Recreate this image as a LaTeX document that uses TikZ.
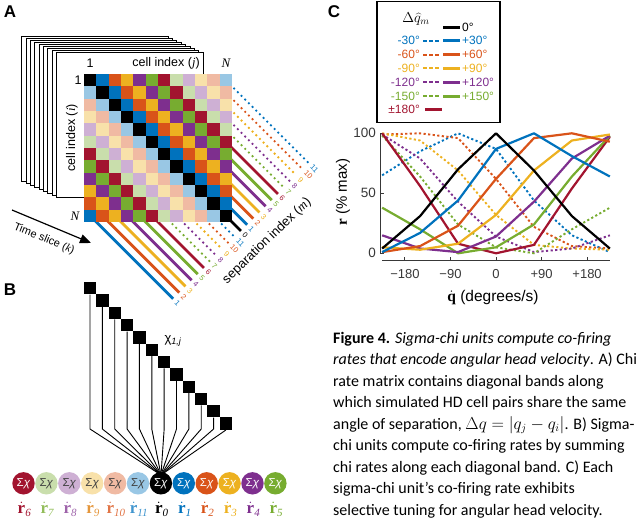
\documentclass[tikz,border=0pt]{standalone}
\usepackage{fontspec}
\setmainfont{Liberation Sans}
\newfontfamily\capfont{Carlito}
\newfontfamily\serf{Liberation Serif}
\usetikzlibrary{arrows.meta,calc}
\newcommand\myfs[1]{\fontsize{#1}{#1}\selectfont}
\newcommand\rdot[1]{$\dot{\hbox{\serf\bfseries r}}_{\hbox{\serf\itshape\myfs{11}#1}}$}
\definecolor{cK}{RGB}{0,0,0}
\definecolor{cB}{RGB}{0,114,189}
\definecolor{cO}{RGB}{217,83,25}
\definecolor{cY}{RGB}{237,177,32}
\definecolor{cP}{RGB}{126,47,142}
\definecolor{cG}{RGB}{119,172,48}
\definecolor{cR}{RGB}{162,20,47}
\colorlet{m0}{cK}
\colorlet{m1}{cB}
\colorlet{m2}{cO}
\colorlet{m3}{cY}
\colorlet{m4}{cP}
\colorlet{m5}{cG}
\colorlet{m6}{cR}
\colorlet{m7}{cG!40!white}
\colorlet{m8}{cP!38!white}
\colorlet{m9}{cY!38!white}
\colorlet{m10}{cO!40!white}
\colorlet{m11}{cB!40!white}
\colorlet{s0}{cK}
\colorlet{s1}{cB}
\colorlet{s2}{cO}
\colorlet{s3}{cY}
\colorlet{s4}{cP}
\colorlet{s5}{cG}
\colorlet{s6}{cR}
\colorlet{s7}{cG}
\colorlet{s8}{cP}
\colorlet{s9}{cY}
\colorlet{s10}{cO}
\colorlet{s11}{cB}
\colorlet{t7}{cG!80!white}
\colorlet{t8}{cP!75!white}
\definecolor{t9}{RGB}{228,150,60}
\colorlet{t10}{cO!80!white}
\colorlet{t11}{cB!75!white}
\colorlet{txg}{black!75}
\colorlet{axg}{black!78}
\tikzset{
  solidln/.style={line width=2.8pt},
  dotln/.style={line width=2.6pt, line cap=round, dash pattern=on 0pt off 5.2pt},
  L0/.style={solidln,draw=cK}, L1/.style={solidln,draw=cB}, L2/.style={solidln,draw=cO},
  L3/.style={solidln,draw=cY}, L4/.style={solidln,draw=cP}, L5/.style={solidln,draw=cG},
  L6/.style={solidln,draw=cR}, L7/.style={dotln,draw=cG}, L8/.style={dotln,draw=cP},
  L9/.style={dotln,draw=cY}, L10/.style={dotln,draw=cO}, L11/.style={dotln,draw=cB},
  plab/.style={font=\myfs{17}\bfseries, inner sep=0pt},
  alab/.style={font=\myfs{12.5}, inner sep=0pt},
  nlab/.style={font=\myfs{13}\serf\itshape, inner sep=0pt},
  numlab/.style={font=\myfs{7.5}, inner sep=0pt},
  sheet/.style={fill=white, draw=black, line width=1pt},
  sq/.style={fill=black, minimum size=12.3pt, inner sep=0pt},
  wire/.style={draw=black, line width=0.9pt},
  circ/.style={circle, minimum size=22.4pt, inner sep=0pt, font=\myfs{11.5}},
  rlab/.style={font=\myfs{17}, inner sep=0pt},
  cs/.style={line width=2.2pt, line join=round},
  cd/.style={line width=1.9pt, dash pattern=on 2.2pt off 2.4pt},
  lgt/.style={font=\myfs{12}, inner sep=0pt},
  lgs/.style={line width=3pt},
  lgd/.style={line width=2pt, dash pattern=on 3.5pt off 2.6pt},
  axis/.style={draw=axg, line width=1pt},
  tickl/.style={font=\myfs{13}, text=axg, inner sep=0pt},
  capl/.style={font=\capfont\myfs{16}, anchor=base west, inner sep=0pt}
}
\begin{document}
\begin{tikzpicture}[x=1pt,y=-1pt]
\useasboundingbox (0,0) rectangle (640,522);
% ---------- panel labels
\node[plab] (labA) at (10,12) {A};
\node[plab] (labB) at (10,290) {B};
\node[plab] (labC) at (334,12) {C};
% ---------- panel A : stack of sheets
\foreach \k in {0,...,8} {
  \pgfmathsetmacro\sx{21.7+4.375*\k}
  \pgfmathsetmacro\sy{36+2.09*\k}
  \filldraw[sheet] (\sx,\sy) rectangle ++(146.5,145);
}
\node[alab] (oneT) at (90,63) {1};
\node[alab] (cellj) at (166,63) {cell index ({\serf\itshape j})};
\node[nlab] (NT) at (226,63) {N};
\node[alab] (oneL) at (78,80) {1};
\node[nlab] (NL) at (75,216) {N};
\node[alab, rotate=90] (celli) at (72,138) {cell index ({\serf\itshape i})};
\coordinate (tsA) at (12,210);
\coordinate (tsB) at (91,243);
\draw[line width=1.2pt, -{Triangle[length=11pt,width=9pt]}] (tsA) -- (tsB);
\node[alab, rotate=-22, font=\myfs{11}] (tslab) at (44,239) {Time slice ({\serf\itshape k})};
% matrix and diagonal bands
\begin{scope}[shift={(84,74)}, x=12.33pt, y=-12.33pt]
  \foreach \n in {1,...,12} {
    \pgfmathtruncatemacro\m{mod(\n,12)}
    \pgfmathsetmacro\t{(13.46-\n)/2}
    \pgfmathsetmacro\ex{\n+\t}
    \pgfmathsetmacro\ey{12+\t}
    \pgfmathsetmacro\lx{\n+\t+0.22}
    \pgfmathsetmacro\ly{12+\t+0.22}
    \draw[L\m] (\n-0.12,11.88) -- (\ex,\ey);
    \node[numlab, text=s\m, anchor=west, rotate=-45] (bl\n) at (\lx,\ly) {\m};
  }
  \foreach \n in {1,...,11} {
    \pgfmathtruncatemacro\m{12-\n}
    \pgfmathsetmacro\t{(13.46-\n)/2}
    \pgfmathsetmacro\ex{12+\t}
    \pgfmathsetmacro\ey{\n+\t}
    \pgfmathsetmacro\lx{12+\t+0.22}
    \pgfmathsetmacro\ly{\n+\t+0.22}
    \draw[L\m] (11.88,\n-0.12) -- (\ex,\ey);
    \node[numlab, text=s\m, anchor=west, rotate=-45] (rl\n) at (\lx,\ly) {\m};
  }
  \foreach \i in {1,...,12} {
    \foreach \j in {1,...,12} {
      \pgfmathtruncatemacro\m{mod(\j-\i+12,12)}
      \fill[m\m] (\j-1,\i-1) rectangle (\j,\i);
    }
  }
\end{scope}
\node[alab, rotate=44, font=\myfs{13}] (sepl) at (267,241) {separation index ({\serf\itshape m})};
% ---------- panel B
\foreach \k in {1,...,12} {
  \pgfmathsetmacro\qx{90+12.36*(\k-1)}
  \pgfmathsetmacro\qy{288.3+12.3*(\k-1)}
  \node[sq] (sq\k) at (\qx,\qy) {};
}
\coordinate (bend) at (0,429);
\coordinate (conv) at (161,475);
\foreach \k in {1,...,11} {
  \draw[wire] (sq\k.south) -- (sq\k.south |- bend) -- (conv);
}
\draw[wire] (sq12.south) -- (conv);
\node[inner sep=0pt, font=\myfs{13}] (chi) at (173,341) {χ\textsubscript{\itshape 1,j}};
\foreach \k/\fc/\tc/\num/\lc in {0/cR/white/6/cR, 1/m7/txg/7/t7, 2/m8/txg/8/t8, 3/m9/txg/9/t9, 4/m10/txg/10/t10, 5/m11/txg/11/t11, 6/cK/white/0/black, 7/cB/white/1/cB, 8/cO/white/2/cO, 9/cY/white/3/cY, 10/cP/white/4/cP, 11/cG/white/5/cG} {
  \node[circ, fill=\fc, text=\tc] (c\k) at ({23.5+22.9*\k},483.3) {Σ\textit{χ}};
  \node[rlab, text=\lc] (r\k) at ({24.5+22.9*\k},509) {\rdot{\num}};
}
% ---------- panel C legend
\draw[draw=black, line width=1.1pt] (377,1.2) rectangle (500,122.5);
\node[inner sep=0pt, font=\myfs{14}] (lgh) at (416,19) {$\Delta\widehat{q}_m$};
\draw[lgs, draw=black] (443,27) -- (460,27);
\node[lgt, anchor=west] (lg0) at (462,27) {0°};
\foreach \k/\col/\a in {1/cB/30, 2/cO/60, 3/cY/90, 4/cP/120, 5/cG/150} {
  \pgfmathsetmacro\ry{27+13.8*\k}
  \node[lgt, text=\col, anchor=east] (lgl\k) at (420,\ry) {-\a°};
  \draw[lgd, draw=\col] (423,\ry) -- (441,\ry);
  \draw[lgs, draw=\col] (443,\ry) -- (460,\ry);
  \node[lgt, text=\col, anchor=west] (lgr\k) at (462,\ry) {+\a°};
}
\node[lgt, text=cR, anchor=east] (lg6) at (420,109.8) {±180°};
\draw[lgs, draw=cR] (425,109.8) -- (442,109.8);
% ---------- panel C plot
\draw[axis] (380,133.3) -- (380,253.3);
\draw[axis] (382,260) -- (610,260);
\foreach \v/\s in {-180/−180, -90/−90, 0/0, 90/+90, 180/+180} {
  \pgfmathsetmacro\tx{496+0.506*\v}
  \draw[axis] (\tx,260) -- (\tx,256.5);
  \node[tickl] (xt\v) at (\tx,274) {\s};
}
\foreach \p/\s in {133.3/100, 193.3/50, 253.3/0} {
  \draw[axis] (380,\p) -- (383.5,\p);
  \node[tickl, anchor=east, font=\myfs{13.5}] at (376,\p) {\s};
}
\node[inner sep=0pt, rotate=90, font=\myfs{15}] (ylab) at (343,192) {{\serf\bfseries r} (\% max)};
\node[inner sep=0pt, font=\myfs{15.5}] (xlab) at (493,298) {$\dot{\hbox{\serf\bfseries q}}$ (degrees/s)};
\coordinate (corig) at (496,253.3);
\begin{scope}[shift={(corig)}, x=0.506pt, y=1.2pt]
  \draw[cd, cB] plot coordinates {(-225,65)(-150,85)(-75,100)(0,87)(75,44)(150,15)(225,1)};
  \draw[cd, cO] plot coordinates {(-225,99)(-150,100)(-75,96)(0,62)(75,22)(150,6)(225,4)};
  \draw[cd, cY] plot coordinates {(-225,100)(-150,94)(-75,69)(0,32)(75,7)(150,4)(225,3)};
  \draw[cd, cP] plot coordinates {(-225,99)(-150,79)(-75,43)(0,14)(75,1)(150,4)(225,15)};
  \draw[cd, cG] plot coordinates {(-225,98)(-150,64)(-75,24)(0,5)(75,0)(150,20)(225,38)};
  \draw[cs, cR] plot coordinates {(-225,100)(-150,56)(-75,8)(0,0)(75,7)(150,54)(225,97)};
  \draw[cs, cG] plot coordinates {(-225,38)(-150,20)(-75,0)(0,5)(75,24)(150,64)(225,98)};
  \draw[cs, cP] plot coordinates {(-225,15)(-150,4)(-75,1)(0,14)(75,43)(150,79)(225,98)};
  \draw[cs, cY] plot coordinates {(-225,5)(-150,3)(-75,8)(0,32)(75,69)(150,94)(225,99)};
  \draw[cs, cO] plot coordinates {(-225,1)(-150,6)(-75,23)(0,62)(75,96)(150,100)(225,93)};
  \draw[cs, cB] plot coordinates {(-225,1)(-150,17)(-75,44)(0,87)(75,100)(150,81)(225,64)};
  \draw[cs, cK] plot coordinates {(-225,4)(-150,31)(-75,70)(0,100)(75,69)(150,31)(225,4)};
\end{scope}
% ---------- caption
\node[capl] (cap1) at (333,343.3) {{\bfseries Figure 4.} {\itshape Sigma-chi units compute co-firing}};
\node[capl] (cap2) at (333,364.8) {{\itshape rates that encode angular head velocity}. A) Chi};
\node[capl] (cap3) at (333,386.3) {rate matrix contains diagonal bands along};
\node[capl] (cap4) at (333,407.8) {which simulated HD cell pairs share the same};
\node[capl] (cap5) at (333,429.3) {angle of separation, $\Delta q=\left|q_j-q_i\right|$. B) Sigma-};
\node[capl] (cap6) at (333,450.8) {chi units compute co-firing rates by summing};
\node[capl] (cap7) at (333,472.3) {chi rates along each diagonal band. C) Each};
\node[capl] (cap8) at (333,493.8) {sigma-chi unit’s co-firing rate exhibits};
\node[capl] (cap9) at (333,515.3) {selective tuning for angular head velocity.};
\end{tikzpicture}
\end{document}
